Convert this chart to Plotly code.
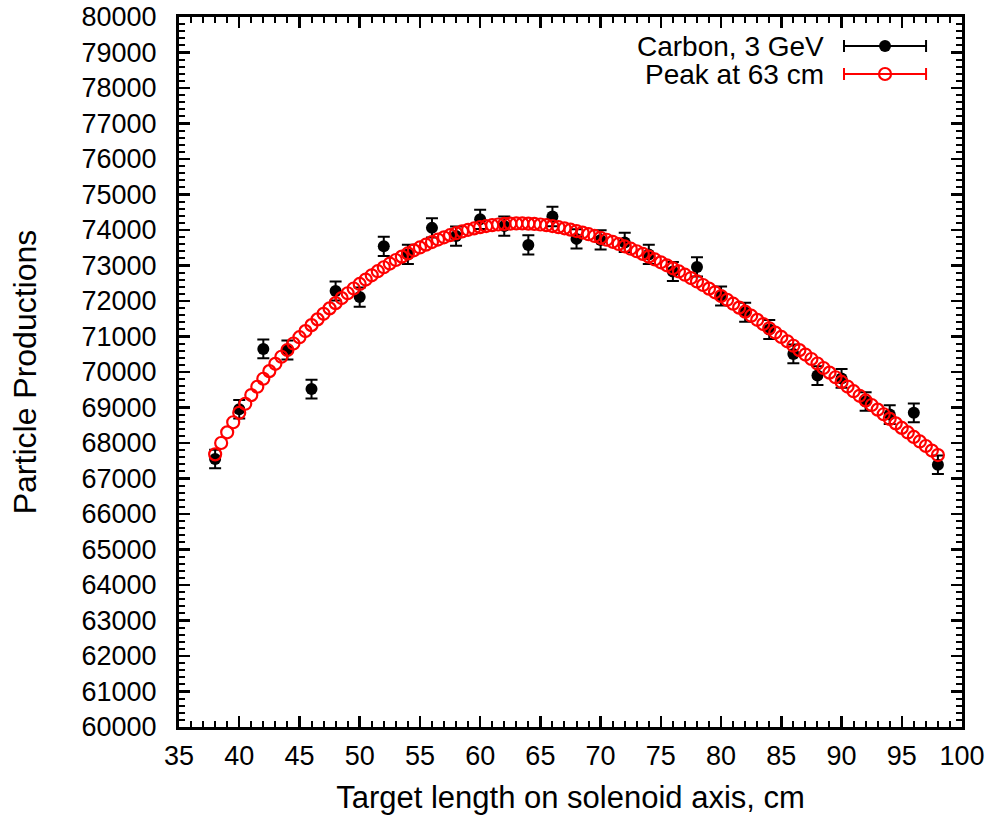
import plotly.graph_objects as go

# ---------------- data ----------------
length_cm = [38, 40, 42, 44, 46, 48, 50, 52, 54, 56, 58, 60, 62, 64, 66,
             68, 70, 72, 74, 76, 78, 80, 82, 84, 86, 88, 90, 92, 94, 96, 98]
production = [67550, 68950, 70650, 70620, 69520, 72280, 72110, 73540, 73310, 74060,
              73830, 74300, 74110, 73580, 74380, 73750, 73720, 73650, 73310, 72830,
              72960, 72140, 71680, 71200, 70510, 69900, 69820, 69170, 68800, 68850,
              67390]
production_err = [260, 263, 266, 266, 264, 269, 269, 271, 271, 272, 272, 273, 272, 271, 273,
                  272, 272, 271, 271, 270, 270, 269, 268, 267, 266, 264, 264, 263, 262, 262,
                  260]

fit_x = [38 + 0.5 * i for i in range(121)]
fit_y = [67680, 68000, 68300, 68585, 68850, 69105, 69350, 69585, 69810,
         70025, 70230, 70430, 70620, 70803, 70980, 71152, 71320,
         71482, 71639, 71792, 71940, 72082, 72219, 72352, 72480,
         72604, 72723, 72839, 72950, 73055, 73155, 73250, 73340,
         73427, 73509, 73587, 73660, 73730, 73795, 73855, 73910,
         73960, 74005, 74045, 74080, 74110, 74135, 74155, 74170,
         74180, 74185, 74185, 74180, 74170, 74155, 74135, 74110,
         74080, 74047, 74010, 73970, 73927, 73881, 73832, 73780,
         73725, 73667, 73605, 73540, 73473, 73402, 73328, 73250,
         73171, 73089, 73006, 72920, 72832, 72741, 72647, 72550,
         72451, 72349, 72245, 72140, 72033, 71924, 71813, 71700,
         71586, 71469, 71351, 71230, 71110, 70988, 70865, 70740,
         70616, 70491, 70366, 70240, 70112, 69982, 69852, 69720,
         69590, 69460, 69330, 69200, 69070, 68940, 68810, 68680,
         68553, 68425, 68298, 68170, 68043, 67915, 67788, 67660]

series_names = ["Carbon, 3 GeV", "Peak at 63 cm"]
x_title = "Target length on solenoid axis, cm"
y_title = "Particle Productions"

FONT = "Liberation Sans, Arial, Helvetica, sans-serif"

fig = go.Figure()

fig.add_trace(go.Scatter(
    x=length_cm, y=production, mode="markers",
    marker=dict(symbol="circle", size=12, color="black"),
    error_y=dict(type="data", array=production_err, visible=True,
                 color="black", thickness=2, width=6),
    showlegend=False, hoverinfo="skip"))

fig.add_trace(go.Scatter(
    x=fit_x, y=fit_y, mode="markers",
    marker=dict(symbol="circle-open", size=12, color="#ff0000",
                line=dict(width=2.2, color="#ff0000")),
    showlegend=False, hoverinfo="skip"))

# legend samples on an overlay axis pair (0..1 over the plot area)
leg_x = 0.9017
leg_half = 0.0524
leg_rows = [0.959, 0.9197]
fig.add_trace(go.Scatter(
    x=[leg_x], y=[leg_rows[0]], mode="markers", xaxis="x2", yaxis="y2",
    marker=dict(symbol="circle", size=12, color="black"),
    error_x=dict(type="data", array=[leg_half], visible=True,
                 color="black", thickness=2, width=6),
    showlegend=False, hoverinfo="skip"))
fig.add_trace(go.Scatter(
    x=[leg_x], y=[leg_rows[1]], mode="markers", xaxis="x2", yaxis="y2",
    marker=dict(symbol="circle-open", size=12, color="#ff0000",
                line=dict(width=2.2, color="#ff0000")),
    error_x=dict(type="data", array=[leg_half], visible=True,
                 color="#ff0000", thickness=2, width=6),
    showlegend=False, hoverinfo="skip"))

for name, yy in zip(series_names, leg_rows):
    fig.add_annotation(x=0.8263, y=yy, xref="x2", yref="y2", text=name,
                       showarrow=False, xanchor="right", yanchor="middle",
                       font=dict(family=FONT, size=28, color="black"))

axis_common = dict(
    showgrid=False, zeroline=False, automargin=False,
    showline=True, linecolor="black", linewidth=3, mirror="allticks",
    ticks="inside", ticklen=11, tickwidth=2.5, tickcolor="black",
    tickfont=dict(family=FONT, size=27, color="black"),
    tickformat="d",
)

fig.update_layout(
    width=989, height=817,
    margin=dict(l=179, r=27, t=17, b=90),
    paper_bgcolor="white", plot_bgcolor="white",
    showlegend=False,
    xaxis=dict(range=[35, 100], dtick=5, tick0=35,
               minor=dict(dtick=1, ticks="inside", ticklen=6, tickwidth=2, tickcolor="black"),
               title=dict(text=x_title, font=dict(family=FONT, size=31, color="black"), standoff=16),
               ticklabelstandoff=3,
               **axis_common),
    yaxis=dict(range=[60000, 80000], dtick=1000, tick0=60000,
               minor=dict(dtick=200, ticks="inside", ticklen=6, tickwidth=2, tickcolor="black"),
               title=dict(text=y_title, font=dict(family=FONT, size=32, color="black"), standoff=36),
               ticklabelstandoff=14,
               **axis_common),
    xaxis2=dict(range=[0, 1], overlaying="x", visible=False, fixedrange=True),
    yaxis2=dict(range=[0, 1], overlaying="y", visible=False, fixedrange=True),
)

fig.write_html("out.html",
               config={"displayModeBar": False, "staticPlot": True},
               post_script="document.body.style.margin='0';document.body.style.overflow='hidden';")
